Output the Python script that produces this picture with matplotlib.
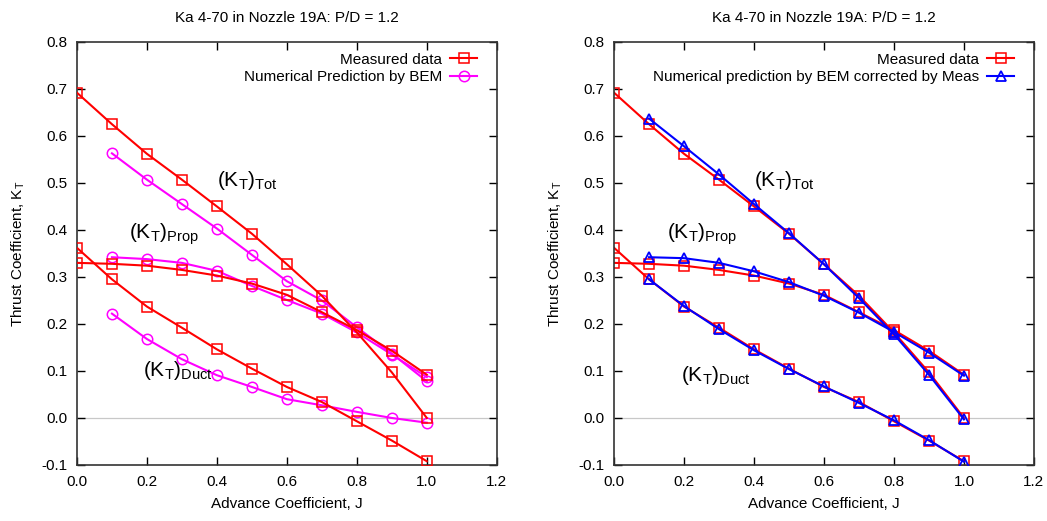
import matplotlib.pyplot as plt
import numpy as np

plt.rcParams['font.family'] = ['Liberation Sans', 'DejaVu Sans']
plt.rcParams['mathtext.fontset'] = 'custom'
plt.rcParams['mathtext.rm'] = 'Liberation Sans'
plt.rcParams['mathtext.it'] = 'Liberation Sans'

title = 'Ka 4-70 in Nozzle 19A: P/D = 1.2'

# measured data
J_meas = [0.0, 0.1, 0.2, 0.3, 0.4, 0.5, 0.6, 0.7, 0.8, 0.9, 1.0]
kt_tot_meas = [0.692, 0.625, 0.562, 0.507, 0.450, 0.392, 0.327, 0.260, 0.182, 0.097, 0.000]
kt_prop_meas = [0.330, 0.328, 0.324, 0.315, 0.303, 0.286, 0.262, 0.225, 0.187, 0.143, 0.092]
kt_duct_meas = [0.362, 0.295, 0.237, 0.192, 0.146, 0.105, 0.066, 0.034, -0.007, -0.048, -0.092]

# BEM prediction
J_bem = [0.1, 0.2, 0.3, 0.4, 0.5, 0.6, 0.7, 0.8, 0.9, 1.0]
kt_tot_bem = [0.563, 0.507, 0.455, 0.403, 0.347, 0.291, 0.250, 0.193, 0.137, 0.078]
kt_prop_bem = [0.342, 0.338, 0.330, 0.313, 0.281, 0.251, 0.222, 0.182, 0.135, 0.087]
kt_duct_bem = [0.222, 0.168, 0.125, 0.091, 0.066, 0.040, 0.027, 0.013, 0.000, -0.010]

# BEM corrected by measurement
kt_tot_corr = [0.637, 0.578, 0.518, 0.455, 0.393, 0.327, 0.255, 0.178, 0.092, -0.003]
kt_prop_corr = [0.342, 0.340, 0.330, 0.312, 0.289, 0.260, 0.224, 0.183, 0.139, 0.090]
kt_duct_corr = [0.295, 0.238, 0.189, 0.144, 0.104, 0.067, 0.032, -0.005, -0.047, -0.093]

labels_left = ['Measured data', 'Numerical Prediction by BEM']
labels_right = ['Measured data', 'Numerical prediction by BEM corrected by Meas']

fig = plt.figure(figsize=(10.47, 5.21), dpi=100)
ax1 = fig.add_axes([0.0735, 0.1075, 0.401, 0.812])
ax2 = fig.add_axes([0.5865, 0.1075, 0.401, 0.812])

meas_style = dict(color='#ff0000', marker='s', mfc='none', ms=7.5, mew=1.1, lw=1.5)
bem_style = dict(color='#ff00ff', marker='o', mfc='none', ms=7.5, mew=1.1, lw=1.5)
corr_style = dict(color='#0000ff', marker='^', mfc='none', ms=7.5, mew=1.3, lw=1.5)

# left panel
for i, kt in enumerate([kt_tot_meas, kt_prop_meas, kt_duct_meas]):
    ax1.plot(J_meas, kt, label=labels_left[0] if i == 0 else None, zorder=3, **meas_style)
for i, kt in enumerate([kt_tot_bem, kt_prop_bem, kt_duct_bem]):
    ax1.plot(J_bem, kt, label=labels_left[1] if i == 0 else None, zorder=2, **bem_style)

# right panel
for i, kt in enumerate([kt_tot_meas, kt_prop_meas, kt_duct_meas]):
    ax2.plot(J_meas, kt, label=labels_right[0] if i == 0 else None, zorder=2, **meas_style)
for i, kt in enumerate([kt_tot_corr, kt_prop_corr, kt_duct_corr]):
    ax2.plot(J_bem, kt, label=labels_right[1] if i == 0 else None, zorder=3, **corr_style)

ann = [('$(\\mathrm{K_T})_{\\mathrm{Tot}}$', 0.40, 0.505),
       ('$(\\mathrm{K_T})_{\\mathrm{Prop}}$', 0.15, 0.39),
       ('$(\\mathrm{K_T})_{\\mathrm{Duct}}$', 0.19, 0.10)]
ann_right = [('$(\\mathrm{K_T})_{\\mathrm{Tot}}$', 0.40, 0.505),
             ('$(\\mathrm{K_T})_{\\mathrm{Prop}}$', 0.15, 0.39),
             ('$(\\mathrm{K_T})_{\\mathrm{Duct}}$', 0.19, 0.09)]

for ax, notes in [(ax1, ann), (ax2, ann_right)]:
    ax.axhline(0, color='#c8c8c8', lw=0.9, zorder=1)
    ax.set_xlim(0, 1.2)
    ax.set_ylim(-0.1, 0.8)
    ax.set_xticks(np.arange(0, 1.21, 0.2))
    ax.set_yticks(np.arange(-0.1, 0.81, 0.1))
    ax.set_xticklabels(['%.1f' % v for v in np.arange(0, 1.21, 0.2)])
    ax.set_yticklabels(['%.1f' % v for v in np.arange(-0.1, 0.81, 0.1)])
    ax.tick_params(direction='in', top=True, right=True, length=6, width=1,
                   labelsize=11, pad=7)
    for sp in ax.spines.values():
        sp.set_linewidth(1.2)
        sp.set_color('#333333')
    ax.set_xlabel('Advance Coefficient, J', fontsize=11, labelpad=6)
    ax.set_ylabel('Thrust Coefficient, K$_\\mathrm{T}$', fontsize=11, labelpad=10)
    ax.set_title(title, fontsize=11, pad=14)
    ax.legend(loc='upper right', bbox_to_anchor=(0.979, 1.0), frameon=False,
              markerfirst=False, fontsize=11, handlelength=1.8, borderaxespad=0.3,
              labelspacing=0.25, handletextpad=0.5)
    for text, x, y in notes:
        ax.text(x, y, text, fontsize=15, ha='left', va='center')

plt.savefig('out.png', dpi=100)
